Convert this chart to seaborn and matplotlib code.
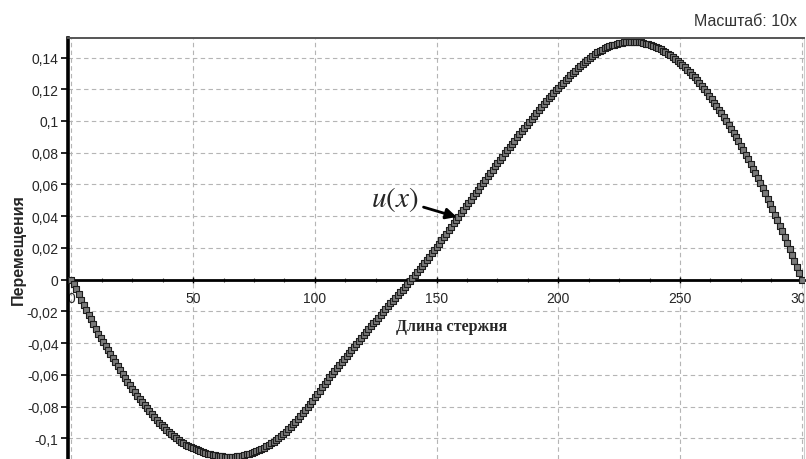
import numpy as np
import pandas as pd
import matplotlib
matplotlib.use("Agg")
import matplotlib.pyplot as plt
from matplotlib.ticker import MultipleLocator, FuncFormatter
import seaborn as sns

# rod coordinate (sampling grid, step 1) and displacement
rod_x = list(range(0, 301))
u_vals = [
    0.0000, -0.0030, -0.0060, -0.0093, -0.0125, -0.0158, -0.0190, -0.0220, -0.0250, -0.0280,
    -0.0310, -0.0340, -0.0370, -0.0395, -0.0420, -0.0445, -0.0470, -0.0495, -0.0520, -0.0545,
    -0.0570, -0.0595, -0.0620, -0.0643, -0.0665, -0.0688, -0.0710, -0.0730, -0.0750, -0.0770,
    -0.0790, -0.0809, -0.0828, -0.0847, -0.0865, -0.0883, -0.0900, -0.0915, -0.0930, -0.0945,
    -0.0960, -0.0974, -0.0987, -0.0999, -0.1010, -0.1020, -0.1030, -0.1039, -0.1047, -0.1055,
    -0.1062, -0.1069, -0.1075, -0.1081, -0.1086, -0.1091, -0.1096, -0.1100, -0.1104, -0.1107,
    -0.1110, -0.1112, -0.1114, -0.1115, -0.1116, -0.1116, -0.1116, -0.1115, -0.1113, -0.1111,
    -0.1108, -0.1105, -0.1101, -0.1097, -0.1092, -0.1086, -0.1080, -0.1073, -0.1066, -0.1058,
    -0.1050, -0.1041, -0.1032, -0.1021, -0.1010, -0.0998, -0.0985, -0.0972, -0.0958, -0.0943,
    -0.0928, -0.0912, -0.0896, -0.0879, -0.0861, -0.0843, -0.0824, -0.0804, -0.0784, -0.0763,
    -0.0742, -0.0721, -0.0700, -0.0679, -0.0658, -0.0637, -0.0616, -0.0596, -0.0576, -0.0557,
    -0.0537, -0.0518, -0.0498, -0.0480, -0.0461, -0.0443, -0.0424, -0.0406, -0.0387, -0.0369,
    -0.0350, -0.0332, -0.0313, -0.0295, -0.0276, -0.0258, -0.0240, -0.0222, -0.0204, -0.0186,
    -0.0168, -0.0150, -0.0132, -0.0115, -0.0097, -0.0080, -0.0062, -0.0045, -0.0027, -0.0009,
    0.0010, 0.0029, 0.0048, 0.0067, 0.0086, 0.0106, 0.0125, 0.0145, 0.0165, 0.0186,
    0.0206, 0.0227, 0.0248, 0.0269, 0.0290, 0.0312, 0.0333, 0.0355, 0.0376, 0.0398,
    0.0419, 0.0441, 0.0462, 0.0484, 0.0505, 0.0526, 0.0547, 0.0568, 0.0589, 0.0610,
    0.0631, 0.0652, 0.0673, 0.0694, 0.0714, 0.0735, 0.0755, 0.0776, 0.0796, 0.0817,
    0.0837, 0.0857, 0.0877, 0.0897, 0.0917, 0.0937, 0.0957, 0.0977, 0.0996, 0.1015,
    0.1034, 0.1053, 0.1071, 0.1089, 0.1107, 0.1125, 0.1142, 0.1159, 0.1176, 0.1193,
    0.1209, 0.1225, 0.1241, 0.1257, 0.1272, 0.1287, 0.1302, 0.1317, 0.1331, 0.1345,
    0.1358, 0.1372, 0.1385, 0.1398, 0.1410, 0.1421, 0.1432, 0.1441, 0.1450, 0.1458,
    0.1465, 0.1471, 0.1477, 0.1482, 0.1487, 0.1491, 0.1494, 0.1496, 0.1498, 0.1499,
    0.1500, 0.1500, 0.1499, 0.1497, 0.1495, 0.1492, 0.1488, 0.1483, 0.1478, 0.1472,
    0.1466, 0.1459, 0.1451, 0.1442, 0.1433, 0.1423, 0.1413, 0.1402, 0.1390, 0.1378,
    0.1365, 0.1352, 0.1338, 0.1323, 0.1308, 0.1292, 0.1276, 0.1259, 0.1242, 0.1222,
    0.1202, 0.1181, 0.1159, 0.1138, 0.1116, 0.1094, 0.1071, 0.1048, 0.1024, 0.1000,
    0.0975, 0.0950, 0.0924, 0.0898, 0.0871, 0.0844, 0.0816, 0.0788, 0.0759, 0.0730,
    0.0700, 0.0670, 0.0639, 0.0608, 0.0576, 0.0544, 0.0511, 0.0478, 0.0444, 0.0410,
    0.0375, 0.0340, 0.0304, 0.0268, 0.0231, 0.0194, 0.0156, 0.0118, 0.0079, 0.0040,
    0.0000,
]
assert len(rod_x) == len(u_vals)

x_ticks = [0, 50, 100, 150, 200, 250, 300]
y_ticks = [-0.1, -0.08, -0.06, -0.04, -0.02, 0, 0.02, 0.04, 0.06, 0.08, 0.1, 0.12, 0.14]

df = pd.DataFrame({"x": rod_x, "u": u_vals})

sns.set_theme(style="white")
plt.rcParams["font.family"] = ["Liberation Sans", "DejaVu Sans"]
plt.rcParams["mathtext.fontset"] = "stix"

fig = plt.figure(figsize=(8.06, 4.60), dpi=100)
ax = fig.add_axes([68.3 / 806, 0.0, (804 - 68.3) / 806, 1 - 39 / 460])

sns.scatterplot(data=df, x="x", y="u", ax=ax, marker="s", s=17,
                color="#7a7a7a", edgecolor="#1e1e1e", linewidth=0.8, zorder=3)

ax.set_xlim(-1.31, 300.95)
ax.set_ylim(-0.113, 0.1523)

# zero line acts as x axis
ax.spines["bottom"].set_position(("data", 0))
ax.spines["bottom"].set_color("black")
ax.spines["bottom"].set_linewidth(2)
ax.spines["left"].set_color("black")
ax.spines["left"].set_linewidth(2.6)
ax.spines["top"].set_color("#555555")
ax.spines["top"].set_linewidth(1.4)
ax.spines["right"].set_color("#cccccc")
ax.spines["right"].set_linewidth(0.8)

ax.set_xticks(x_ticks)
ax.set_yticks(y_ticks)
ax.xaxis.set_minor_locator(MultipleLocator(12.5))


def comma_fmt(v, pos):
    s = f"{v:.2f}".rstrip("0").rstrip(".")
    if s in ("-0", ""):
        s = "0"
    return s.replace(".", ",")


ax.yaxis.set_major_formatter(FuncFormatter(comma_fmt))
ax.xaxis.set_major_formatter(FuncFormatter(lambda v, p: f"{v:.0f}"))

ax.tick_params(axis="y", which="major", direction="out", length=5, width=1.2,
               color="black", labelsize=10, pad=2, left=True)
ax.tick_params(axis="x", which="major", direction="inout", length=5, width=1,
               color="black", labelsize=10, pad=6, bottom=True)
ax.tick_params(axis="x", which="minor", direction="inout", length=3, width=0.8,
               color="#444444", bottom=True)

ax.grid(True, which="major", color="#b5b5b5", linestyle=(0, (4, 3)), linewidth=0.8)
ax.set_axisbelow(True)
ax.set_xlabel("")
ax.set_ylabel("")

ax.annotate("$u(x)$", xy=(158.3, 0.0395), xytext=(133.0, 0.0510),
            ha="center", va="center", fontsize=21,
            arrowprops=dict(arrowstyle="-|>", color="black", lw=2,
                            mutation_scale=16, shrinkA=1, shrinkB=0))

ax.text(156.3, -0.0292, "Длина стержня", ha="center", va="center",
        fontsize=11.5, fontweight="bold", family=["Liberation Serif", "DejaVu Serif"])

fig.text(18 / 806, 1 - 250 / 460, "Перемещения", rotation=90, ha="center",
         va="center", fontsize=11.5, fontweight="bold")
fig.text(797 / 806, 1 - 21.7 / 460, "Масштаб: 10x", ha="right", va="center",
         fontsize=11.5, color="#333333")

fig.savefig("out.png", dpi=100)
